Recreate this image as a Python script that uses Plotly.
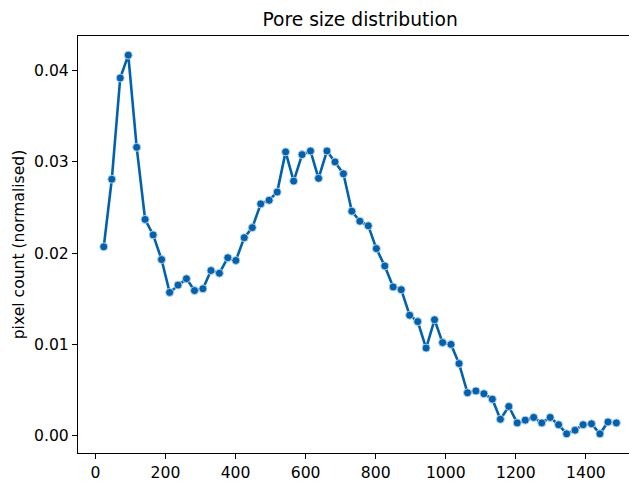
import plotly.graph_objects as go

# Pore size (x) and normalised pixel count (y)
pore_size = [24, 47, 71, 94, 118, 142, 165, 189, 212, 236, 260, 283, 307, 330,
             354, 378, 401, 425, 448, 472, 496, 519, 543, 566, 590, 614, 637,
             661, 684, 708, 732, 755, 779, 802, 826, 850, 873, 897, 920, 944,
             968, 991, 1015, 1038, 1062, 1086, 1109, 1133, 1156, 1180, 1204,
             1227, 1251, 1274, 1298, 1322, 1345, 1369, 1392, 1416, 1440, 1463,
             1487]
pixel_count = [0.0207, 0.0281, 0.0392, 0.0417, 0.0316, 0.0237, 0.0220, 0.0193,
               0.0157, 0.0165, 0.0172, 0.0159, 0.0161, 0.0181, 0.0178, 0.0195,
               0.0192, 0.0217, 0.0228, 0.0254, 0.0258, 0.0267, 0.0311, 0.0279,
               0.0308, 0.0312, 0.0282, 0.0312, 0.0300, 0.0287, 0.0246, 0.0235,
               0.0230, 0.0205, 0.0186, 0.0163, 0.0160, 0.0132, 0.0125, 0.0096,
               0.0127, 0.0102, 0.0100, 0.0079, 0.0047, 0.0049, 0.0046, 0.0040,
               0.0018, 0.0032, 0.0014, 0.0017, 0.0020, 0.0014, 0.0020, 0.0012,
               0.0002, 0.0006, 0.0012, 0.0013, 0.0002, 0.0015, 0.0014]

x_ticks = [0, 200, 400, 600, 800, 1000, 1200, 1400]
y_ticks = [0.00, 0.01, 0.02, 0.03, 0.04]

title_text = "Pore size distribution"
y_label = "pixel count (normalised)"

color = "#0061ae"
font_family = "DejaVu Sans"

fig = go.Figure()
fig.add_trace(go.Scatter(
    x=pore_size, y=pixel_count, mode="lines+markers",
    line=dict(color=color, width=2.6),
    marker=dict(color=color, size=8, line=dict(color="rgba(190,215,240,0.9)", width=1)),
    showlegend=False, hoverinfo="x+y",
))

fig.update_layout(
    width=629, height=482,
    margin=dict(l=78, r=0, t=36, b=26),
    paper_bgcolor="white", plot_bgcolor="white",
    font=dict(family=font_family, size=15.6, color="black"),
    title=dict(text=title_text, font=dict(size=18.7, color="black"),
               x=0.512, xanchor="center", xref="paper",
               y=1 - 19 / 482, yref="container", yanchor="middle"),
    xaxis=dict(range=[-49.5, 1523], tickvals=x_ticks,
               ticktext=[str(v) for v in x_ticks],
               showgrid=False, zeroline=False,
               showline=True, linecolor="black", linewidth=1.25, mirror=True,
               ticks="outside", ticklen=5, tickwidth=1.25, tickcolor="black",
               tickfont=dict(size=15.6)),
    yaxis=dict(range=[-0.0019, 0.0438], tickvals=y_ticks,
               ticktext=["%.2f" % v for v in y_ticks],
               showgrid=False, zeroline=False,
               showline=True, linecolor="black", linewidth=1.25, mirror=False,
               ticks="outside", ticklen=5, tickwidth=1.25, tickcolor="black",
               tickfont=dict(size=15.6),
               title=dict(text=y_label, font=dict(size=15.6), standoff=5)),
)

fig.write_html("out.html")
